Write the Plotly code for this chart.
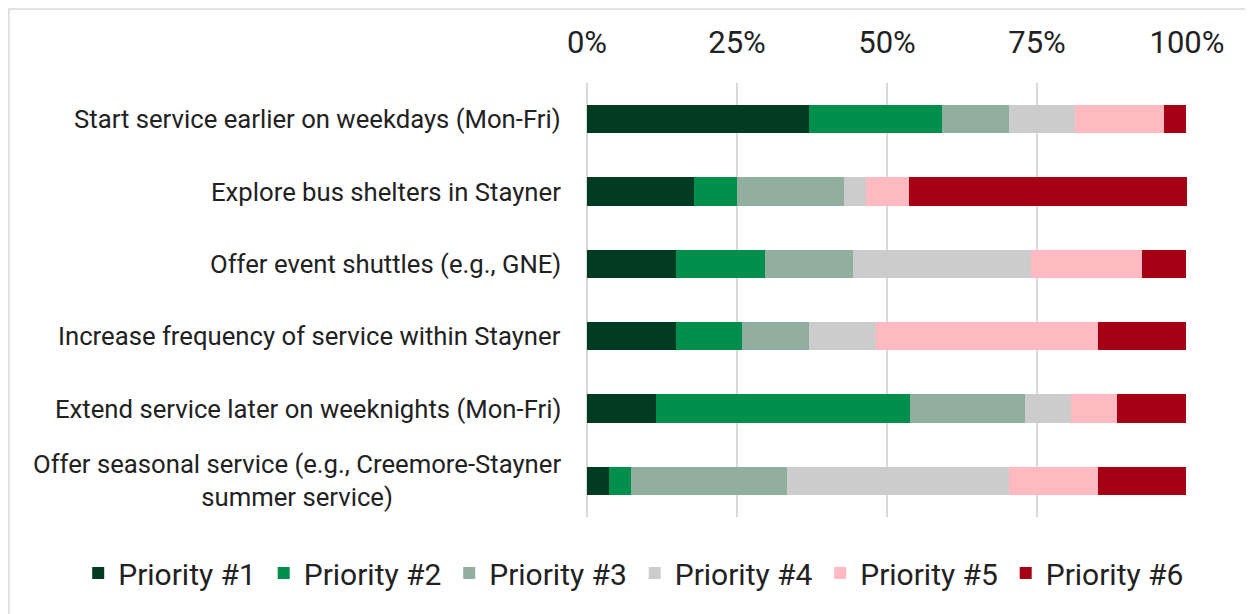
import plotly.graph_objects as go

# survey items, top to bottom
categories = [
    "Start service earlier on weekdays (Mon-Fri)",
    "Explore bus shelters in Stayner",
    "Offer event shuttles (e.g., GNE)",
    "Increase frequency of service within Stayner",
    "Extend service later on weeknights (Mon-Fri)",
    "Offer seasonal service (e.g., Creemore-Stayner<br>summer service)",
]

# share of respondents (%) for each priority rank
priority_1 = [37.0, 17.9, 14.8, 14.8, 11.5, 3.7]
priority_2 = [22.2, 7.1, 14.8, 11.1, 42.3, 3.7]
priority_3 = [11.1, 17.9, 14.8, 11.1, 19.2, 25.9]
priority_4 = [11.1, 3.6, 29.6, 11.1, 7.7, 37.0]
priority_5 = [14.8, 7.1, 18.5, 37.0, 7.7, 14.8]
priority_6 = [3.7, 46.4, 7.4, 14.8, 11.5, 14.8]

series_names = ["Priority #1", "Priority #2", "Priority #3",
                "Priority #4", "Priority #5", "Priority #6"]
series_values = [priority_1, priority_2, priority_3,
                 priority_4, priority_5, priority_6]
colors = ["#003B22", "#008F4C", "#92AE9E", "#CCCCCC", "#FFB9C1", "#A50014"]

x_ticks = [0, 25, 50, 75, 100]
x_ticktext = ["0%", "25%", "50%", "75%", "100%"]

FONT = "Roboto, Liberation Sans, sans-serif"
TXT = "#222222"

fig = go.Figure()
for name, vals, col in zip(series_names, series_values, colors):
    fig.add_trace(go.Bar(
        y=categories, x=vals, name=name, orientation="h",
        marker=dict(color=col, line=dict(width=0)),
        hovertemplate="%{y}<br>" + name + ": %{x:.1f}%<extra></extra>",
    ))

# category labels as annotations so the wrapped one is centred like the original
for cat in categories:
    fig.add_annotation(
        x=0, xref="paper", y=cat, yref="y", text=cat,
        xanchor="right", yanchor="middle", align="center", xshift=-24,
        showarrow=False, font=dict(family=FONT, size=25.7, color=TXT),
    )

# chart-area frame (right/bottom edges fall outside the view, as in the original)
fig.add_shape(type="rect", xref="paper", yref="paper",
              x0=-0.9635, x1=1.2, y0=-0.4, y1=1.1705,
              line=dict(color="#D9D9D9", width=1.5), fillcolor="rgba(0,0,0,0)",
              layer="below")

fig.update_layout(
    width=1245, height=606,
    barmode="stack", bargap=0.61,
    paper_bgcolor="white", plot_bgcolor="white",
    margin=dict(l=579, r=66, t=75, b=97, autoexpand=False),
    font=dict(family=FONT, color=TXT),
    showlegend=True,
    # left of the plot area + left anchor lets the row use the full width
    legend=dict(orientation="h", x=-0.848, xanchor="left", y=-0.129, yanchor="middle",
                font=dict(family=FONT, size=30, color=TXT),
                entrywidth=140.5, entrywidthmode="pixels",
                traceorder="normal", itemclick=False, itemdoubleclick=False),
    xaxis=dict(side="top", range=[0, 100], tickvals=x_ticks, ticktext=x_ticktext,
               showgrid=True, gridcolor="#D9D9D9", gridwidth=1.5,
               zeroline=True, zerolinecolor="#D9D9D9", zerolinewidth=1.5,
               ticks="outside", ticklen=17, tickcolor="rgba(0,0,0,0)",
               tickfont=dict(family=FONT, size=31, color=TXT),
               showline=False, fixedrange=True),
    yaxis=dict(autorange="reversed", showticklabels=False, showgrid=False,
               zeroline=False, showline=False, fixedrange=True),
)

fig.write_html("out.html")
